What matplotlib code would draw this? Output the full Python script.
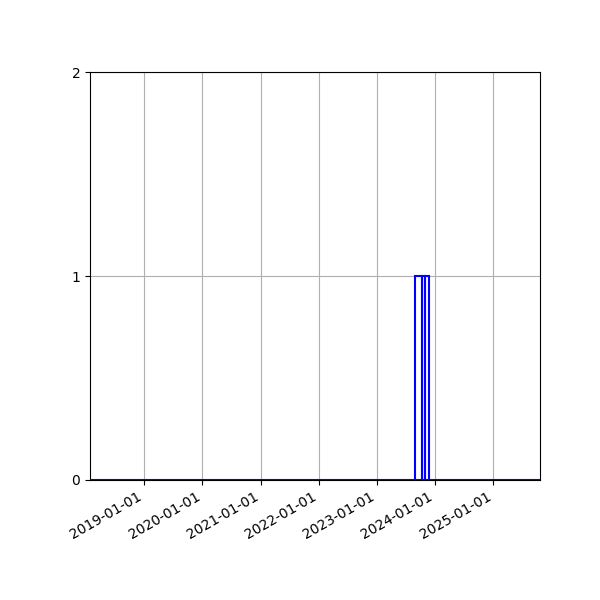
import matplotlib
matplotlib.use("Agg")
import matplotlib.pyplot as plt
import matplotlib.dates as mdates
import numpy as np
import datetime as dt

# Data: event dates and histogram bin edges
event_dates = ["2023-09-20", "2023-10-20", "2023-11-10"]
bin_edges = ["2018-01-25", "2023-08-28", "2023-10-13", "2023-10-29", "2023-11-27", "2025-10-21"]
x_limits = ["2018-01-25", "2025-10-21"]
y_ticks = [0, 1, 2]
tick_years = [2019, 2020, 2021, 2022, 2023, 2024, 2025]

to_num = lambda s: mdates.date2num(dt.datetime.strptime(s, "%Y-%m-%d"))
events = [to_num(s) for s in event_dates]
edges = [to_num(s) for s in bin_edges]

fig, ax = plt.subplots(figsize=(6, 6), dpi=100)
fig.subplots_adjust(left=0.15, right=0.9, top=0.88, bottom=0.2)

ax.hist(events, bins=edges, fill=False, edgecolor="blue", linewidth=1.5, zorder=3)
ax.set_xlim(to_num(x_limits[0]), to_num(x_limits[1]))
ax.set_ylim(0, 2)
ax.set_yticks(y_ticks)
ax.set_xticks([mdates.date2num(dt.datetime(y, 1, 1)) for y in tick_years])
ax.xaxis.set_major_formatter(mdates.DateFormatter("%Y-%m-%d"))
ax.grid(True)
ax.set_axisbelow(True)
for lbl in ax.get_xticklabels():
    lbl.set_rotation(30)
    lbl.set_ha("right")

fig.savefig("out.png", dpi=100)
